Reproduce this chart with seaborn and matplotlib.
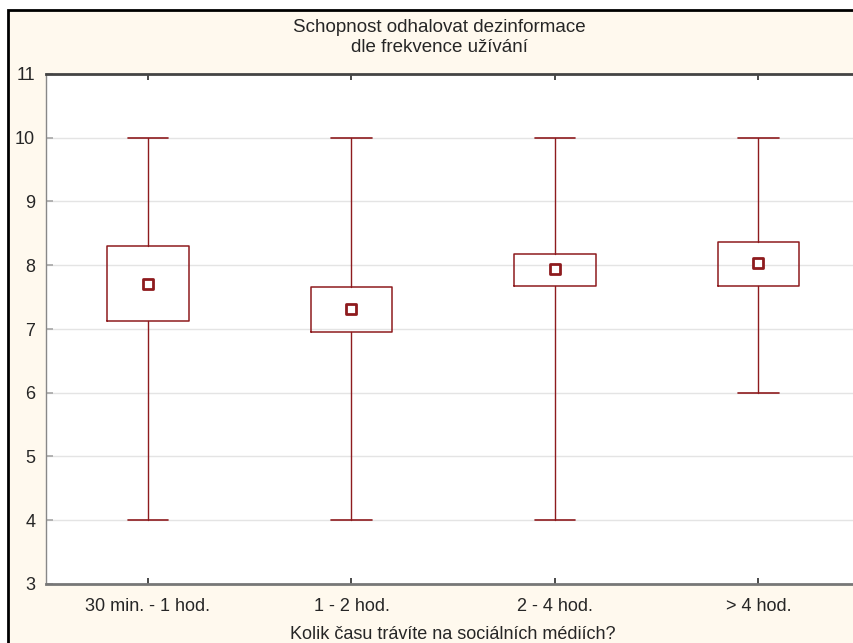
import matplotlib
matplotlib.use("Agg")
import matplotlib.pyplot as plt
import seaborn as sns
import pandas as pd
from matplotlib.patches import Rectangle

categories = ["30 min. - 1 hod.", "1 - 2 hod.", "2 - 4 hod.", "> 4 hod."]
means = [7.71, 7.31, 7.94, 8.03]
box_low = [7.13, 6.95, 7.67, 7.67]
box_high = [8.30, 7.66, 8.18, 8.36]
whisk_low = [4, 4, 4, 6]
whisk_high = [10, 10, 10, 10]
y_ticks = [3, 4, 5, 6, 7, 8, 9, 10, 11]

RED = "#8E1B1E"
sns.set_theme(style="white")
plt.rcParams["font.family"] = ["Liberation Sans", "DejaVu Sans"]

fig = plt.figure(figsize=(8.54, 6.43), dpi=100, facecolor="white")
W, H = 854, 643
# figure frame (cream panel with black border)
frame = Rectangle((8 / W, -0.05), 1.1, 1 - 10 / H + 0.05, transform=fig.transFigure,
                  facecolor="#FFF9EE", edgecolor="black", linewidth=2, zorder=-10)
fig.patches.append(frame)

ax_left, ax_right = 46.25, 860.25
ax = fig.add_axes([ax_left / W, 1 - 584 / H, (ax_right - ax_left) / W, (584 - 74) / H])
ax.set_zorder(5)
ax.set_facecolor("white")

stats = []
for i, c in enumerate(categories):
    stats.append(dict(med=means[i], q1=box_low[i], q3=box_high[i],
                      whislo=whisk_low[i], whishi=whisk_high[i], fliers=[], label=c))
ax.bxp(stats, positions=range(len(categories)), widths=0.40, showfliers=False,
       boxprops=dict(color=RED, linewidth=1.1),
       whiskerprops=dict(color=RED, linewidth=1.0),
       capprops=dict(color=RED, linewidth=1.2),
       medianprops=dict(linewidth=0), capwidths=0.2, manage_ticks=False)

df = pd.DataFrame({"cat": categories, "mean": means})
sns.scatterplot(data=df, x="cat", y="mean", ax=ax, marker="s", s=45,
                facecolor="white", edgecolor=RED, linewidth=2.0, zorder=5)

ax.set_xlim(-0.5, 3.5)
ax.set_ylim(3, 11)
ax.set_yticks(y_ticks)
ax.set_yticklabels([str(v) for v in y_ticks], fontsize=13)
ax.set_xticks(range(len(categories)))
ax.set_xticklabels(categories, fontsize=13)
ax.yaxis.grid(True, color="#E4E4E4", linewidth=1)
ax.set_axisbelow(True)
ax.tick_params(axis="y", direction="in", length=5, color="#AAAAAA", pad=8, left=True)
ax.tick_params(axis="x", direction="in", length=4, color="#333333", pad=10, bottom=True, top=True)
for s in ["left", "right"]:
    ax.spines[s].set_color("#888888")
    ax.spines[s].set_linewidth(1)
ax.spines["top"].set_color("#444444")
ax.spines["top"].set_linewidth(2)
ax.spines["bottom"].set_color("#777777")
ax.spines["bottom"].set_linewidth(2)
ax.set_xlabel("Kolik času trávíte na sociálních médiích?", fontsize=13, labelpad=8)
ax.set_ylabel("")

fig.text(439 / W, 1 - 27 / H, "Schopnost odhalovat dezinformace", ha="center", va="center", fontsize=13.5)
fig.text(439 / W, 1 - 48 / H, "dle frekvence užívání", ha="center", va="center", fontsize=13.5)

fig.savefig("out.png", dpi=100, facecolor="white")
